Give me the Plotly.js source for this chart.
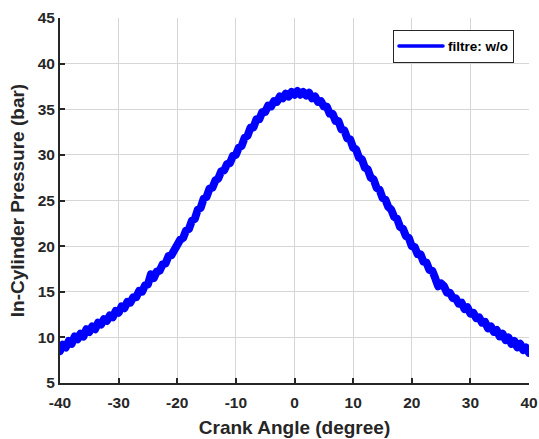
<!DOCTYPE html>
<html>
<head>
<meta charset="utf-8">
<script src="https://cdn.plot.ly/plotly-3.0.1.min.js"></script>
<style>
html,body{margin:0;padding:0;background:#fff;}
#chart{width:539px;height:439px;}
#chart path.js-line{stroke-linejoin:round !important;stroke-linecap:round;}
</style>
</head>
<body>
<div id="chart"></div>
<script>
// Crank angle (degree), 0.5 degree steps from -40 to 40
const crankAngle = [];
for (let i = 0; i <= 160; i++) crankAngle.push(-40 + i * 0.5);

const pressure = [
  8.5, 9.2, 8.9, 9.6, 9.3, 10.1, 9.8, 10.4, 10.1, 10.9,
  10.6, 11.2, 10.9, 11.6, 11.4, 12.0, 11.8, 12.4, 12.2, 12.9,
  12.7, 13.4, 13.2, 13.9, 13.8, 14.4, 14.4, 15.1, 15.0, 15.7,
  15.8, 16.9, 16.5, 17.2, 17.3, 18.0, 18.1, 18.9, 19.0, 19.7,
  19.9, 20.7, 20.9, 21.7, 21.9, 22.8, 23.0, 24.0, 24.2, 25.2,
  25.4, 26.3, 26.4, 27.2, 27.4, 28.2, 28.3, 29.0, 29.1, 29.9,
  30.0, 30.8, 31.0, 31.9, 32.1, 33.0, 33.0, 33.9, 33.9, 34.7,
  34.7, 35.4, 35.3, 35.9, 35.8, 36.4, 36.2, 36.7, 36.4, 36.9,
  36.6, 37.0, 36.6, 36.9, 36.5, 36.8, 36.2, 36.4, 35.8, 35.9,
  35.3, 35.3, 34.5, 34.5, 33.7, 33.7, 32.8, 32.7, 31.8, 31.7,
  30.8, 30.6, 29.7, 29.5, 28.6, 28.4, 27.5, 27.3, 26.4, 26.2,
  25.3, 25.1, 24.3, 24.0, 23.2, 23.0, 22.1, 21.9, 21.1, 20.9,
  20.0, 19.9, 19.1, 19.1, 18.3, 18.2, 17.4, 17.3, 16.5, 15.6,
  15.9, 15.6, 14.9, 14.9, 14.3, 14.3, 13.7, 13.8, 13.1, 13.3,
  12.6, 12.7, 12.1, 12.2, 11.6, 11.7, 11.0, 11.2, 10.6, 10.8,
  10.1, 10.4, 9.7, 10.0, 9.3, 9.6, 8.9, 9.3, 8.6, 8.9,
  8.3
];

const xTicks = [-40, -30, -20, -10, 0, 10, 20, 30, 40];
const yTicks = [5, 10, 15, 20, 25, 30, 35, 40, 45];
const seriesName = 'filtre: w/o';

const fam = 'Liberation Sans, Arial, sans-serif';
const tickFont = {family: fam, size: 15.5, weight: 'bold', color: '#262626'};
const titleFont = {family: fam, size: 19, weight: 'bold', color: '#262626'};

const trace = {
  x: crankAngle,
  y: pressure,
  type: 'scatter',
  mode: 'lines',
  name: seriesName,
  showlegend: false,
  line: {color: '#0000ff', width: 8}
};
// legend entry only (thin sample line, as in the reference)
const legendEntry = {
  x: [null], y: [null],
  type: 'scatter', mode: 'lines',
  name: seriesName,
  showlegend: true,
  line: {color: '#0000ff', width: 3.5}
};

const layout = {
  width: 539,
  height: 439,
  margin: {l: 60, r: 10, t: 18, b: 56},
  paper_bgcolor: '#ffffff',
  plot_bgcolor: '#ffffff',
  showlegend: true,
  legend: {
    x: 0.968, y: 0.968, xanchor: 'right', yanchor: 'top',
    bgcolor: '#ffffff', bordercolor: '#262626', borderwidth: 1,
    itemwidth: 44, tracegroupgap: 0,
    font: {family: fam, size: 13.5, weight: 'bold', color: '#000000'}
  },
  xaxis: {
    range: [-40, 40],
    tickvals: xTicks,
    ticktext: xTicks.map(String),
    showgrid: true, gridcolor: '#d6d6d6', gridwidth: 1,
    zeroline: false,
    showline: true, linecolor: '#262626', linewidth: 2, mirror: false,
    ticks: 'inside', ticklen: 5, tickwidth: 2, tickcolor: '#262626',
    ticklabelstandoff: 4,
    tickfont: tickFont,
    title: {text: 'Crank Angle (degree)', font: titleFont, standoff: 11}
  },
  yaxis: {
    range: [5, 45],
    tickvals: yTicks,
    ticktext: yTicks.map(String),
    showgrid: true, gridcolor: '#d6d6d6', gridwidth: 1,
    zeroline: false,
    showline: true, linecolor: '#262626', linewidth: 2, mirror: false,
    ticks: 'inside', ticklen: 5, tickwidth: 2, tickcolor: '#262626',
    tickfont: tickFont,
    title: {text: 'In-Cylinder Pressure (bar)', font: titleFont, standoff: 8}
  }
};

Plotly.newPlot('chart', [trace, legendEntry], layout, {displayModeBar: false, staticPlot: true});
</script>
</body>
</html>
